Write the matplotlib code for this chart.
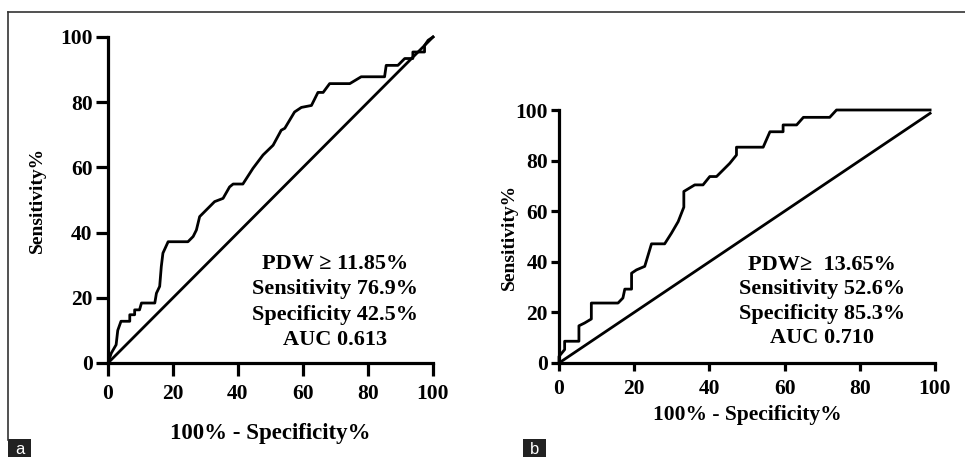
import matplotlib
matplotlib.use("Agg")
import matplotlib.pyplot as plt
from matplotlib.lines import Line2D
from matplotlib.patches import Rectangle

plt.rcParams['font.family'] = ['Liberation Serif', 'DejaVu Serif']
plt.rcParams['font.weight'] = 'bold'

# ROC curve a (100% - specificity, sensitivity)
fpr_a = [0, 1.0, 2.5, 3.0, 4.0, 6.7, 6.7, 8.2, 8.2, 9.7, 10.3, 14.4, 14.9, 15.9,
         16.4, 16.9, 18.5, 24.6, 26.2, 27.2, 28.2, 29.7, 32.8, 35.4, 37.4, 38.5,
         41.5, 44.6, 47.7, 50.8, 53.3, 54.4, 57.4, 59.5, 62.6, 64.6, 66.2, 68.2,
         74.4, 77.9, 85.1, 85.6, 89.2, 91.3, 93.8, 93.8, 97.4, 97.4, 98.5, 100]
tpr_a = [0, 3, 5.6, 10, 12.8, 12.8, 14.8, 14.8, 16.3, 16.3, 18.4, 18.4, 21.4, 23.5,
         29.6, 33.7, 37.2, 37.2, 38.8, 40.8, 44.9, 46.4, 49.5, 50.5, 54, 54.9,
         54.9, 59.7, 63.8, 66.8, 71.4, 72, 77, 78.4, 79, 83, 83, 85.7,
         85.7, 87.8, 87.8, 91.3, 91.3, 93.4, 93.4, 95.4, 95.4, 97.4, 99, 100]
diag_a = [0, 100]

# ROC curve b
fpr_b = [0, 0, 1.5, 1.5, 5.3, 5.3, 6.8, 8.6, 8.6, 15.7, 17.0, 17.5, 19.3, 19.3,
         20.6, 22.8, 24.6, 28.1, 29.9, 31.7, 33.2, 33.2, 36.1, 38.3, 40.1, 41.9,
         45.4, 47.2, 47.2, 54.3, 56.1, 59.6, 59.6, 63.2, 65.0, 72.0, 73.8, 98.7]
tpr_b = [0, 2.6, 5.3, 8.6, 8.6, 14.7, 15.8, 17.4, 23.7, 23.7, 25.7, 29.2, 29.2, 35.5,
         36.8, 38.2, 47.1, 47.1, 51.3, 55.9, 61.6, 67.8, 70.4, 70.4, 73.7, 73.7,
         78.9, 82.2, 85.3, 85.3, 91.4, 91.4, 94.1, 94.1, 97.1, 97.1, 100, 100]
diag_b = [0, 98.7]

ticks = [0, 20, 40, 60, 80, 100]
text_a = "PDW \u2265 11.85%\nSensitivity 76.9%\nSpecificity 42.5%\nAUC 0.613"
text_b = "PDW\u2265  13.65%\nSensitivity 52.6%\nSpecificity 85.3%\nAUC 0.710"

fig = plt.figure(figsize=(9.65, 4.57), dpi=100)


def roc_panel(rect, fpr, tpr, diag, txt, txt_y, ls, tick_len, xpad, xlab_size, xlab_pad, ylab_pad):
    ax = fig.add_axes(rect)
    ax.plot(fpr, tpr, color='black', lw=2.0, clip_on=False)
    ax.plot(diag, diag, color='black', lw=2.0, clip_on=False)
    ax.set_xlim(0, 100)
    ax.set_ylim(0, 100)
    ax.set_xticks(ticks)
    ax.set_yticks(ticks)
    for s in ['top', 'right']:
        ax.spines[s].set_visible(False)
    for s in ['left', 'bottom']:
        ax.spines[s].set_linewidth(2.3)
    ax.tick_params(direction='out', length=tick_len, width=2.3, labelsize=15.5)
    ax.tick_params(axis='x', pad=xpad)
    ax.tick_params(axis='y', pad=2)
    ax.set_xlabel("100% - Specificity%", fontsize=xlab_size, fontweight='bold', labelpad=xlab_pad)
    ax.set_ylabel("Sensitivity%", fontsize=14, fontweight='bold', labelpad=ylab_pad)
    ax.text(70, txt_y, txt, ha='center', va='center', fontsize=16,
            fontweight='bold', linespacing=ls)
    return ax


roc_panel([108 / 965, 94 / 457, 325 / 965, 326 / 457], fpr_a, tpr_a, diag_a,
          text_a, 18.7, 1.37, 9, 6, 16.5, 14, 10)
roc_panel([559 / 965, 94 / 457, 376 / 965, 253 / 457], fpr_b, tpr_b, diag_b,
          text_b, 24.3, 1.27, 6, 5.5, 15.5, 4, -2)

# figure frame and panel letters
fig.add_artist(Line2D([8 / 965, 1], [1 - 12 / 457, 1 - 12 / 457], color='#333333', lw=1.2))
fig.add_artist(Line2D([8 / 965, 8 / 965], [1 - 12 / 457, 17 / 457], color='#333333', lw=1.2))
for x0, letter in [(8, 'a'), (523, 'b')]:
    fig.add_artist(Rectangle((x0 / 965, 0), 23 / 965, 18 / 457, transform=fig.transFigure,
                             facecolor='#222222', edgecolor='none'))
    fig.text((x0 + 11.5) / 965, 8 / 457, letter, color='white', ha='center', va='center',
             fontsize=12, family='Liberation Sans', fontweight='normal')

fig.savefig("out.png", dpi=100)
